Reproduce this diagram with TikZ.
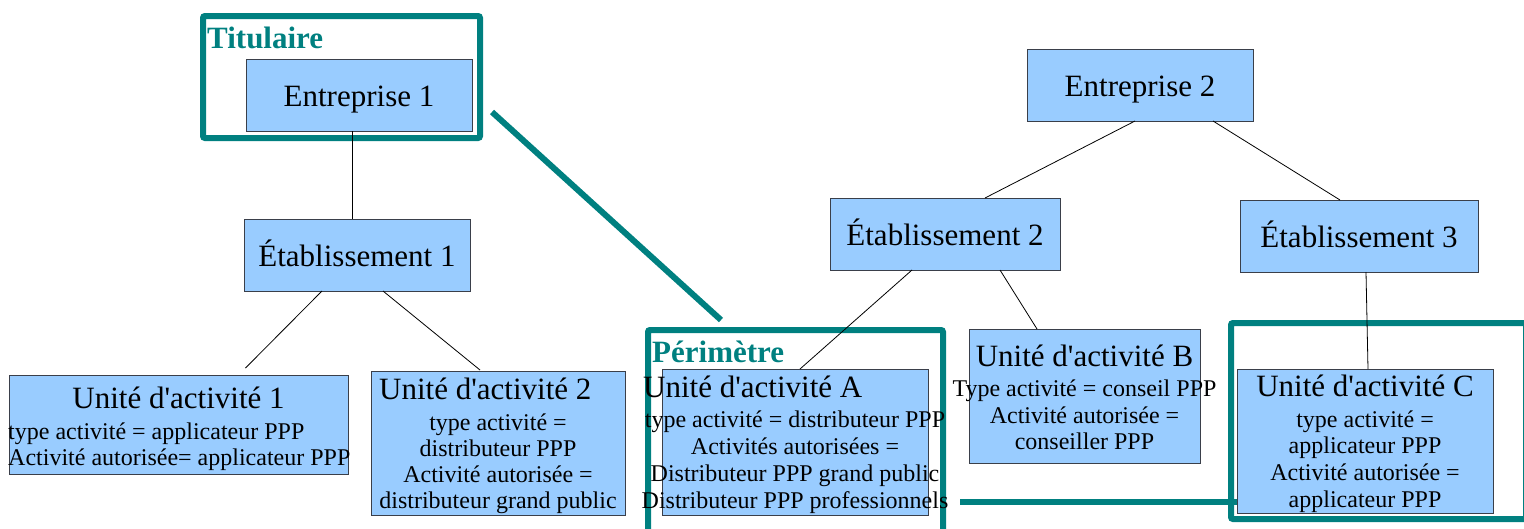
\documentclass[tikz,border=0pt]{standalone}
\usepackage{fontspec}
\setmainfont{Liberation Serif}
\usetikzlibrary{calc}
\definecolor{boxblue}{HTML}{99CCFF}
\definecolor{tealc}{HTML}{008080}
\definecolor{boxline}{HTML}{3A3F4A}
\newcommand{\ap}{\textquotesingle}
\begin{document}
\begin{tikzpicture}[x=1pt,y=-1pt,
  box/.style={draw=boxline, fill=boxblue, line width=1pt, inner sep=0pt, outer sep=0pt, anchor=north west},
  frame/.style={draw=tealc, line width=6pt, rounded corners=2pt, inner sep=0pt, outer sep=0pt, anchor=north west},
  tealline/.style={draw=tealc, line width=6pt},
  conn/.style={draw=black, line width=0.8pt},
  big/.style={font=\fontsize{31}{34}\selectfont, inner sep=0pt, anchor=base},
  small/.style={font=\fontsize{24}{26.5}\selectfont, inner sep=0pt, anchor=base},
  lbl/.style={font=\fontsize{31}{34}\selectfont\bfseries, text=tealc, inner sep=0pt, anchor=base west}]
\useasboundingbox (0,0) rectangle (1524,528);
\clip (0,0) rectangle (1524,528);

% teal frames
\node[frame, minimum width=277pt, minimum height=122pt] (tit) at (203,16) {};
\node[frame, minimum width=295pt, minimum height=210pt] (per) at (648,330) {};
\node[frame, minimum width=295pt, minimum height=196pt] (cfr) at (1231,323) {};

% boxes (shapes only)
\node[box, minimum width=226pt, minimum height=72pt] (e1) at (246,59) {};
\node[box, minimum width=226pt, minimum height=72pt] (et1) at (244,219) {};
\node[box, minimum width=339pt, minimum height=99pt] (u1) at (9,375) {};
\node[box, minimum width=254pt, minimum height=144pt] (u2) at (371,371) {};
\node[box, minimum width=226pt, minimum height=72pt] (e2) at (1027,49) {};
\node[box, minimum width=230pt, minimum height=72pt] (et2) at (830,198) {};
\node[box, minimum width=238pt, minimum height=72pt] (et3) at (1240,200) {};
\node[box, minimum width=266pt, minimum height=146pt] (ua) at (662,369) {};
\node[box, minimum width=231pt, minimum height=134pt] (ub) at (969,329) {};
\node[box, minimum width=256pt, minimum height=144pt] (uc) at (1237,369) {};

% connectors
\draw[conn] ([xshift=-7pt]e1.south) -- ([xshift=-5pt]et1.north);
\draw[conn] ([xshift=-35pt]et1.south) -- ([xshift=67pt,yshift=7pt]u1.north);
\draw[conn] ([xshift=26pt]et1.south) -- ([xshift=-18pt,yshift=1pt]u2.north);
\draw[conn] ([xshift=-5pt]e2.south) -- ([xshift=40pt]et2.north);
\draw[conn] ([xshift=73pt]e2.south) -- ([xshift=-19pt]et3.north);
\draw[conn] ([xshift=-33pt]et2.south) -- ([xshift=5pt]ua.north);
\draw[conn] ([xshift=55pt]et2.south) -- ([xshift=-47.5pt]ub.north);
\draw[conn] ([xshift=7pt]et3.south) -- ([xshift=3pt]uc.north);

% teal links
\coordinate (d1) at (492,112);
\coordinate (d2) at (721,320);
\draw[tealline] (d1) -- (d2);
\coordinate (h1) at (960,502);
\draw[tealline] (h1) -- (h1 -| uc.west);

% labels
\node[lbl] (ltit) at (207,48) {Titulaire};
\node[lbl] (lper) at (652,362) {Périmètre};

% texts
\node[big] (te1) at (359,106) {Entreprise 1};
\node[big] (tet1) at (357,266) {Établissement 1};
\node[big] (te2) at (1140,96) {Entreprise 2};
\node[big] (tet2) at (945,245) {Établissement 2};
\node[big] (tet3) at (1359,247) {Établissement 3};

\node[big] (t1) at (178.5,408) {Unité d\ap activité 1};
\node[small, anchor=base west] (t1a) at (8,439) {type activité = applicateur PPP};
\node[small, anchor=base west] (t1b) at (8,465) {Activité autorisée= applicateur PPP};

\node[big, anchor=base west] (t2) at (379,399) {Unité d\ap activité 2};
\node[small] (t2a) at (498,430) {type activité =};
\node[small] (t2b) at (498,456) {distributeur PPP};
\node[small] (t2c) at (498,482) {Activité autorisée =};
\node[small] (t2d) at (498,508) {distributeur grand public};

\node[big, anchor=base west] (ta) at (643,397) {Unité d\ap activité A};
\node[small] (taa) at (795,427) {type activité = distributeur PPP};
\node[small] (tab) at (795,454) {Activités autorisées =};
\node[small] (tac) at (795,481) {Distributeur PPP grand public};
\node[small] (tad) at (795,508) {Distributeur PPP professionnels};

\node[big] (tb) at (1084.5,366) {Unité d\ap activité B};
\node[small] (tba) at (1084.5,396) {Type activité = conseil PPP};
\node[small] (tbb) at (1084.5,423) {Activité autorisée =};
\node[small] (tbc) at (1084.5,449) {conseiller PPP};

\node[big] (tc) at (1365,396) {Unité d\ap activité C};
\node[small] (tca) at (1365,427) {type activité =};
\node[small] (tcb) at (1365,453) {applicateur PPP};
\node[small] (tcc) at (1365,480) {Activité autorisée =};
\node[small] (tcd) at (1365,507) {applicateur PPP};
\end{tikzpicture}
\end{document}
